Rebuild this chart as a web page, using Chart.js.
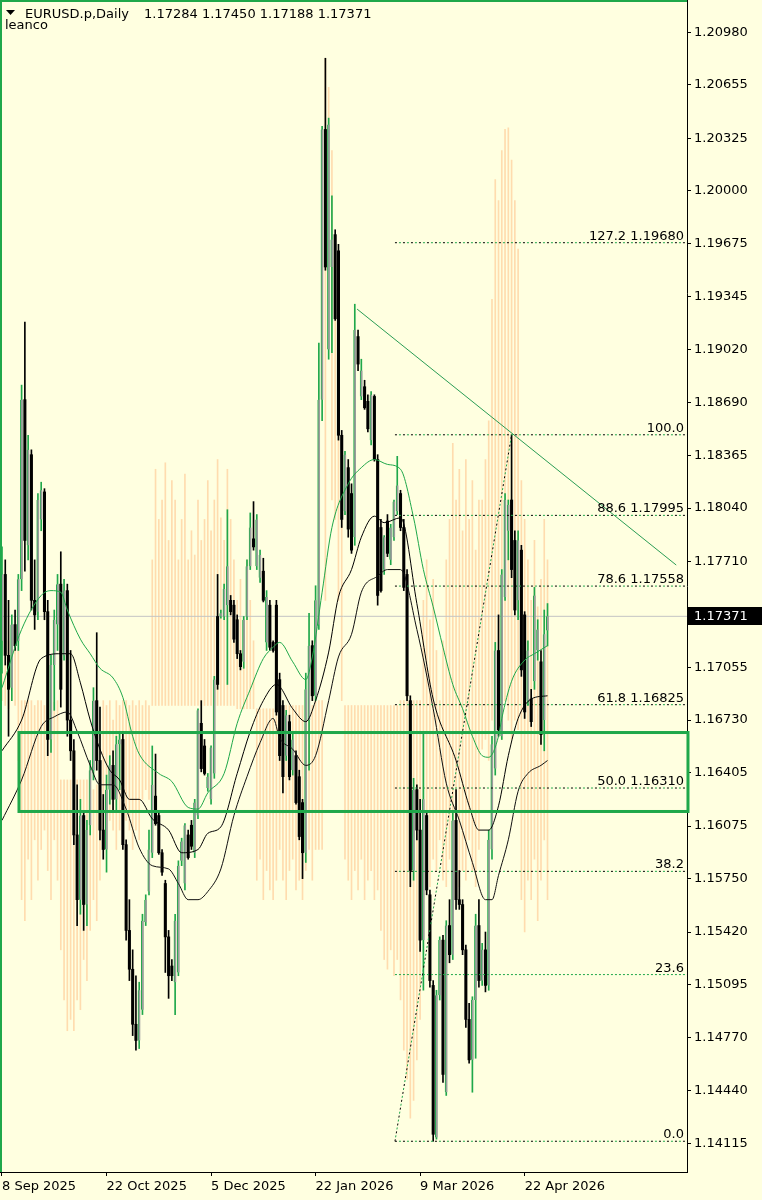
<!DOCTYPE html>
<html>
<head>
<meta charset="utf-8">
<script src="https://cdn.jsdelivr.net/npm/chart.js@4.4.1/dist/chart.umd.min.js"></script>
<style>
  html, body { margin: 0; padding: 0; background: #FFFFE0; }
  canvas { display: block; }
</style>
</head>
<body>
<canvas id="grafica" width="762" height="1200"></canvas>
<script>
// EURUSD.p Daily, one entry per bar (bar 0 = 8 Sep 2025)
const opens = [
  1.1722, 1.1763, 1.1713, 1.1693, 1.1732, 1.1722, 1.1760, 1.1871, 1.1781, 1.1837,
  1.1747, 1.1740, 1.1797, 1.1814, 1.1740, 1.1661, 1.1707, 1.1732, 1.1757, 1.1713,
  1.1753, 1.1673, 1.1654, 1.1602, 1.1562, 1.1614, 1.1559, 1.1608, 1.1642, 1.1685,
  1.1648, 1.1605, 1.1593, 1.1630, 1.1645, 1.1624, 1.1658, 1.1661, 1.1596, 1.1543,
  1.1519, 1.1485, 1.1475, 1.1494, 1.1548, 1.1567, 1.1591, 1.1626, 1.1614, 1.1591,
  1.1572, 1.1539, 1.1521, 1.1511, 1.1517, 1.1586, 1.1572, 1.1602, 1.1608, 1.1591,
  1.1614, 1.1671, 1.1657, 1.1631, 1.1624, 1.1640, 1.1737, 1.1737, 1.1737, 1.1744,
  1.1747, 1.1744, 1.1735, 1.1714, 1.1709, 1.1737, 1.1768, 1.1785, 1.1768, 1.1761,
  1.1765, 1.1721, 1.1744, 1.1721, 1.1744, 1.1698, 1.1682, 1.1651, 1.1672, 1.1642,
  1.1651, 1.1638, 1.1622, 1.1591, 1.1673, 1.1719, 1.1688, 1.1732, 1.1871, 1.2038,
  1.1902, 1.1953, 1.1973, 1.1963, 1.1849, 1.1802, 1.1829, 1.1813, 1.1786, 1.1910,
  1.1873, 1.1879, 1.1870, 1.1846, 1.1873, 1.1834, 1.1792, 1.1766, 1.1796, 1.1772,
  1.1786, 1.1802, 1.1813, 1.1792, 1.1763, 1.1685, 1.1580, 1.1630, 1.1605, 1.1537,
  1.1614, 1.1565, 1.1509, 1.1415, 1.1503, 1.1537, 1.1443, 1.1546, 1.1528, 1.1611,
  1.1562, 1.1559, 1.1531, 1.1488, 1.1463, 1.1500, 1.1546, 1.1512, 1.1531, 1.1509,
  1.1593, 1.1643, 1.1716, 1.1663, 1.1749, 1.1790, 1.1809, 1.1784, 1.1747, 1.1778,
  1.1738, 1.1685, 1.1686, 1.1697, 1.1716, 1.1709, 1.1673, 1.17284
];
const highs = [
  1.1780, 1.1772, 1.1747, 1.1738, 1.1741, 1.1763, 1.1880, 1.1919, 1.1849, 1.1840,
  1.1772, 1.1813, 1.1820, 1.1816, 1.1747, 1.1713, 1.1741, 1.1763, 1.1777, 1.1760,
  1.1757, 1.1716, 1.1661, 1.1633, 1.1624, 1.1617, 1.1611, 1.1648, 1.1693, 1.1727,
  1.1681, 1.1627, 1.1639, 1.1651, 1.1654, 1.1663, 1.1666, 1.1666, 1.1599, 1.1562,
  1.1531, 1.1515, 1.1511, 1.1553, 1.1565, 1.1605, 1.1657, 1.1652, 1.1616, 1.1593,
  1.1574, 1.1543, 1.1525, 1.1553, 1.1586, 1.1600, 1.1609, 1.1605, 1.1611, 1.1624,
  1.1680, 1.1685, 1.1661, 1.1640, 1.1657, 1.1700, 1.1763, 1.1741, 1.1757, 1.1803,
  1.1750, 1.1747, 1.1738, 1.1716, 1.1737, 1.1772, 1.1801, 1.1808, 1.1800, 1.1778,
  1.1773, 1.1753, 1.1747, 1.1722, 1.1747, 1.1702, 1.1685, 1.1679, 1.1676, 1.1665,
  1.1654, 1.1642, 1.1624, 1.1702, 1.1739, 1.1722, 1.1756, 1.1906, 1.2040, 1.2082,
  1.2045, 1.1997, 1.1976, 1.1967, 1.1852, 1.1839, 1.1834, 1.1819, 1.1930, 1.1914,
  1.1896, 1.1883, 1.1874, 1.1876, 1.1874, 1.1837, 1.1797, 1.1787, 1.1800, 1.1794,
  1.1809, 1.1836, 1.1815, 1.1797, 1.1766, 1.1688, 1.1637, 1.1633, 1.1624, 1.1666,
  1.1617, 1.1568, 1.1512, 1.1506, 1.1539, 1.1540, 1.1549, 1.1562, 1.1617, 1.1630,
  1.1580, 1.1562, 1.1534, 1.1498, 1.1502, 1.1553, 1.1562, 1.1535, 1.1542, 1.1605,
  1.1663, 1.1721, 1.1738, 1.1766, 1.1813, 1.1809, 1.18493, 1.1790, 1.1790, 1.1781,
  1.1740, 1.1722, 1.1692, 1.1755, 1.1735, 1.1716, 1.1741, 1.17450
];
const lows = [
  1.1702, 1.1707, 1.1663, 1.1685, 1.1716, 1.1716, 1.1753, 1.1765, 1.1772, 1.1741,
  1.1729, 1.1735, 1.1790, 1.1735, 1.1651, 1.1653, 1.1679, 1.1716, 1.1681, 1.1710,
  1.1663, 1.1648, 1.1596, 1.1546, 1.1553, 1.1543, 1.1546, 1.1602, 1.1636, 1.1642,
  1.1599, 1.1587, 1.1579, 1.1621, 1.1617, 1.1617, 1.1630, 1.1593, 1.1537, 1.1512,
  1.1478, 1.1469, 1.1470, 1.1491, 1.1546, 1.1565, 1.1588, 1.1608, 1.1590, 1.1577,
  1.1517, 1.1501, 1.1512, 1.1491, 1.1515, 1.1583, 1.1568, 1.1587, 1.1593, 1.1588,
  1.1612, 1.1641, 1.1639, 1.1629, 1.1621, 1.1637, 1.1692, 1.1736, 1.1735, 1.1695,
  1.1738, 1.1721, 1.1711, 1.1704, 1.1705, 1.1735, 1.1766, 1.1778, 1.1766, 1.1758,
  1.1746, 1.1716, 1.1716, 1.1715, 1.1676, 1.1648, 1.1628, 1.1648, 1.1636, 1.1639,
  1.1621, 1.1599, 1.1575, 1.1585, 1.1642, 1.1685, 1.1685, 1.1729, 1.1858, 1.1951,
  1.1896, 1.1900, 1.1920, 1.1846, 1.1792, 1.1800, 1.1786, 1.1776, 1.1781, 1.1889,
  1.1871, 1.1865, 1.1851, 1.1843, 1.1833, 1.1744, 1.1752, 1.1763, 1.1774, 1.1769,
  1.1784, 1.1800, 1.1790, 1.1753, 1.1685, 1.1570, 1.1574, 1.1599, 1.1530, 1.1506,
  1.1565, 1.1508, 1.14127, 1.1414, 1.1500, 1.1449, 1.1441, 1.1523, 1.1525, 1.1556,
  1.1556, 1.1528, 1.1483, 1.1461, 1.1443, 1.1464, 1.1508, 1.1509, 1.1505, 1.1506,
  1.1587, 1.1639, 1.1663, 1.1661, 1.1747, 1.1772, 1.1761, 1.1738, 1.1735, 1.1700,
  1.1674, 1.1682, 1.1669, 1.1692, 1.1710, 1.1658, 1.1654, 1.17188
];
const closes = [
  1.1763, 1.1713, 1.1692, 1.1732, 1.1719, 1.1760, 1.1871, 1.1784, 1.1840, 1.1747,
  1.1738, 1.1809, 1.1815, 1.1740, 1.1661, 1.1707, 1.1735, 1.1757, 1.1692, 1.1753,
  1.1673, 1.1654, 1.1602, 1.1562, 1.1614, 1.1559, 1.1605, 1.1642, 1.1685, 1.1648,
  1.1605, 1.1593, 1.1630, 1.1645, 1.1624, 1.1658, 1.1661, 1.1596, 1.1543, 1.1519,
  1.1485, 1.1475, 1.1506, 1.1549, 1.1562, 1.1593, 1.1633, 1.1609, 1.1591, 1.1579,
  1.1539, 1.1515, 1.1515, 1.1549, 1.1583, 1.1598, 1.1608, 1.1588, 1.1595, 1.1622,
  1.1679, 1.1643, 1.1640, 1.1638, 1.1656, 1.1698, 1.1695, 1.1739, 1.1754, 1.1768,
  1.1740, 1.1723, 1.1714, 1.1706, 1.1735, 1.1768, 1.1792, 1.1780, 1.1797, 1.1775,
  1.1747, 1.1749, 1.1718, 1.1716, 1.1678, 1.1651, 1.1638, 1.1676, 1.1638, 1.1661,
  1.1622, 1.1601, 1.1591, 1.1692, 1.1719, 1.1688, 1.1747, 1.1871, 1.2038, 1.1953,
  1.2041, 1.1970, 1.1921, 1.1849, 1.1797, 1.1837, 1.1791, 1.1778, 1.1914, 1.1893,
  1.1889, 1.1866, 1.1853, 1.1874, 1.1834, 1.1750, 1.1753, 1.1786, 1.1776, 1.1792,
  1.1808, 1.1818, 1.1792, 1.1755, 1.1688, 1.1580, 1.1630, 1.1605, 1.1537, 1.1624,
  1.1568, 1.1512, 1.1417, 1.1503, 1.1537, 1.1454, 1.1546, 1.1528, 1.1611, 1.1562,
  1.1559, 1.1531, 1.1488, 1.1463, 1.1500, 1.1546, 1.1512, 1.1531, 1.1509, 1.1599,
  1.1658, 1.1716, 1.1667, 1.1763, 1.1809, 1.1806, 1.1766, 1.1741, 1.1784, 1.1704,
  1.1678, 1.1716, 1.1672, 1.1750, 1.1729, 1.1664, 1.1726, 1.17371
];

// light orange background histogram (high / low per bar)
const ghostHigh = [
  1.1722, 1.1716, 1.1722, 1.1716, 1.1722, 1.1716, 1.1685, 1.1685, 1.1685, 1.1685,
  1.1682, 1.1685, 1.1685, 1.1682, 1.1685, 1.1682, 1.1684, 1.1685, 1.1636, 1.1636,
  1.1636, 1.1636, 1.1636, 1.1636, 1.1636, 1.1636, 1.1636, 1.1633, 1.1630, 1.1633,
  1.1624, 1.1685, 1.1682, 1.1685, 1.1673, 1.1685, 1.1682, 1.1685, 1.1685, 1.1682,
  1.1685, 1.1682, 1.1685, 1.1682, 1.1685, 1.1682, 1.1772, 1.1828, 1.1797, 1.1809,
  1.1832, 1.1784, 1.1821, 1.1809, 1.1772, 1.1797, 1.1825, 1.1772, 1.1790, 1.1775,
  1.1809, 1.1784, 1.1797, 1.1821, 1.1790, 1.1809, 1.1834, 1.1798, 1.1784, 1.1828,
  1.1797, 1.1772, 1.1747, 1.1760, 1.1735, 1.1772, 1.1747, 1.1722, 1.1680, 1.1680,
  1.1680, 1.1680, 1.1680, 1.1680, 1.1680, 1.1682, 1.1682, 1.1682, 1.1682, 1.1682,
  1.1682, 1.1682, 1.1682, 1.1682, 1.1682, 1.1682, 1.1685, 1.1685, 1.1685, 1.2082,
  1.2064, 1.2025, 1.1964, 1.1945, 1.1840, 1.1682, 1.1682, 1.1682, 1.1682, 1.1682,
  1.1682, 1.1682, 1.1682, 1.1682, 1.1682, 1.1682, 1.1682, 1.1682, 1.1682, 1.1682,
  1.1682, 1.1682, 1.1685, 1.1685, 1.1685, 1.1685, 1.1685, 1.1685, 1.1685, 1.1747,
  1.1772, 1.1735, 1.1760, 1.1716, 1.1685, 1.1722, 1.1772, 1.1797, 1.1844, 1.1809,
  1.1828, 1.1790, 1.1834, 1.1797, 1.1821, 1.1778, 1.1809, 1.1809, 1.1834, 1.1858,
  1.1933, 1.2007, 1.1994, 1.2025, 1.2038, 1.2039, 1.2019, 1.1994, 1.1964, 1.1821,
  1.1797, 1.1772, 1.1747, 1.1784, 1.1743, 1.1760, 1.1797, 1.1772
];
const ghostLow = [
  1.1685, 1.1682, 1.1680, 1.1685, 1.1682, 1.1648, 1.1562, 1.1549, 1.1587, 1.1562,
  1.1599, 1.1574, 1.1593, 1.1605, 1.1580, 1.1562, 1.1599, 1.1574, 1.1531, 1.1500,
  1.1481, 1.1488, 1.1481, 1.1500, 1.1494, 1.1525, 1.1512, 1.1543, 1.1562, 1.1549,
  1.1574, 1.1605, 1.1599, 1.1611, 1.1605, 1.1593, 1.1605, 1.1599, 1.1611, 1.1605,
  1.1593, 1.1605, 1.1599, 1.1624, 1.1630, 1.1624, 1.1682, 1.1682, 1.1682, 1.1682,
  1.1682, 1.1682, 1.1682, 1.1682, 1.1682, 1.1682, 1.1682, 1.1682, 1.1682, 1.1682,
  1.1682, 1.1682, 1.1682, 1.1682, 1.1682, 1.1682, 1.1682, 1.1682, 1.1682, 1.1682,
  1.1682, 1.1682, 1.1680, 1.1680, 1.1680, 1.1680, 1.1680, 1.1680, 1.1574, 1.1587,
  1.1562, 1.1580, 1.1568, 1.1562, 1.1574, 1.1593, 1.1574, 1.1562, 1.1580, 1.1587,
  1.1568, 1.1574, 1.1562, 1.1580, 1.1593, 1.1574, 1.1593, 1.1593, 1.1593, 1.1747,
  1.1930, 1.1809, 1.1797, 1.1747, 1.1685, 1.1587, 1.1574, 1.1562, 1.1580, 1.1568,
  1.1587, 1.1562, 1.1574, 1.1580, 1.1562, 1.1568, 1.1543, 1.1525, 1.1519, 1.1531,
  1.1515, 1.1525, 1.1500, 1.1469, 1.1451, 1.1427, 1.1438, 1.1463, 1.1488, 1.1574,
  1.1593, 1.1570, 1.1587, 1.1580, 1.1599, 1.1574, 1.1570, 1.1587, 1.1574, 1.1593,
  1.1570, 1.1580, 1.1574, 1.1599, 1.1580, 1.1570, 1.1593, 1.1655, 1.1661, 1.1648,
  1.1673, 1.1673, 1.1667, 1.1661, 1.1685, 1.1673, 1.1661, 1.1673, 1.1667, 1.1562,
  1.1542, 1.1574, 1.1562, 1.1587, 1.1549, 1.1574, 1.1599, 1.1562
];

// moving-average style bands, [bar, price]
const upperBand = [
  [0, 1.1693], [6, 1.1729], [12, 1.1750], [15, 1.1753], [18, 1.1752], [20, 1.1741],
  [24, 1.1723], [27, 1.1714], [30, 1.1705], [34, 1.1699], [37, 1.1687], [40, 1.1663],
  [42, 1.1652], [48, 1.1640], [52, 1.1635], [57, 1.1619], [60, 1.1618], [63, 1.1628],
  [68, 1.1640], [72, 1.1671], [76, 1.1692], [80, 1.1711], [83, 1.1718], [85, 1.1721],
  [89, 1.1709], [93, 1.1698], [95, 1.1712], [98, 1.1752], [101, 1.1792], [106, 1.1819],
  [110, 1.1829], [114, 1.1834], [118, 1.1831], [122, 1.1828], [126, 1.1798], [129, 1.1766],
  [132, 1.1743], [135, 1.1718], [138, 1.1695], [141, 1.1680], [144, 1.1663], [147, 1.1651],
  [149, 1.1650], [152, 1.1663], [153, 1.1674], [156, 1.1697], [160, 1.1710], [163, 1.1714],
  [167, 1.1719]
];
const midBand = [
  [0, 1.1654], [6, 1.1673], [12, 1.1711], [18, 1.1714], [21, 1.1714], [24, 1.1696],
  [27, 1.1673], [30, 1.1655], [33, 1.1642], [36, 1.1636], [39, 1.1624], [42, 1.1624],
  [46, 1.1612], [51, 1.1605], [55, 1.1591], [60, 1.1593], [63, 1.1603], [67, 1.1607],
  [72, 1.1640], [76, 1.1666], [80, 1.1685], [84, 1.1695], [89, 1.1680], [93, 1.1672],
  [96, 1.1685], [100, 1.1715], [103, 1.1749], [107, 1.1766], [110, 1.1786], [114, 1.1799],
  [117, 1.1795], [122, 1.1798], [127, 1.1745], [132, 1.1686], [139, 1.1648], [143, 1.1620],
  [146, 1.1605], [149, 1.1605], [152, 1.1620], [155, 1.1651], [158, 1.1674], [162, 1.1686],
  [167, 1.1688]
];
const lowerBand = [
  [0, 1.1611], [6, 1.1636], [12, 1.1669], [16, 1.1675], [20, 1.1678], [23, 1.1666],
  [27, 1.1645], [30, 1.1633], [34, 1.1633], [38, 1.1618], [42, 1.1594], [46, 1.1583],
  [51, 1.1581], [54, 1.1572], [57, 1.1562], [60, 1.1562], [63, 1.1567], [67, 1.1581],
  [71, 1.1614], [75, 1.1638], [79, 1.1659], [83, 1.1674], [85, 1.1662], [89, 1.1655],
  [93, 1.1645], [96, 1.1651], [100, 1.1685], [103, 1.1712], [107, 1.1726], [110, 1.1752],
  [115, 1.1762], [118, 1.1766], [122, 1.1766], [127, 1.1729], [132, 1.1680], [136, 1.1634],
  [140, 1.1611], [144, 1.1585], [148, 1.1562], [150, 1.1562], [152, 1.1577], [155, 1.1599],
  [158, 1.1629], [161, 1.1640], [165, 1.1645], [167, 1.1648]
];

// fibonacci retracement
const fibLevels = ["0.0", "23.6", "38.2", "50.0", "61.8", "78.6", "88.6", "100.0", "127.2"];
const fibPrices = [1.14127, 1.15157, 1.15795, 1.16310, 1.16825, 1.17558, 1.17995, 1.18493, 1.19680];
const fibShowPrice = [false, false, false, true, true, true, true, false, true];
const fibBars = [120.3, 156];           // anchor bars (low, high)
const trendBars = [108.7, 206.4];
const trendPrices = [1.19270, 1.17688];
const boxBars = [5.2, 210];
const boxPrices = [1.16653, 1.16165];

const yTickVals = [1.20980, 1.20655, 1.20325, 1.20000, 1.19675, 1.19345, 1.19020, 1.18690,
  1.18365, 1.18040, 1.17710, 1.17055, 1.16730, 1.16405, 1.16075, 1.15750, 1.15420,
  1.15095, 1.14770, 1.14440, 1.14115];
const xTickBars = [0, 32, 64, 96, 128, 160];
const xTickLabels = ["8 Sep 2025", "22 Oct 2025", "5 Dec 2025", "22 Jan 2026", "9 Mar 2026", "22 Apr 2026"];

const VERDE = "#1fa84a";
const FUENTE = "DejaVu Sans";
const lastClose = closes[closes.length - 1];
const esAlcista = i => closes[i] >= opens[i];

const datasets = [];

datasets.push({
  type: "bar", label: "ghost", order: 20, grouped: false,
  data: ghostHigh.map((h, i) => ({ x: i, y: [ghostLow[i], h] })),
  backgroundColor: "#FFDCAE", barThickness: 1, borderWidth: 0
});

datasets.push({
  type: "line", label: "precio", order: 15,
  data: [{ x: -1, y: lastClose }, { x: 212, y: lastClose }],
  borderColor: "#c4c4c4", borderWidth: 1, pointRadius: 0
});

datasets.push({
  type: "bar", label: "mechas", order: 8, grouped: false,
  data: highs.map((h, i) => ({ x: i, y: [lows[i], h] })),
  backgroundColor: ctx => esAlcista(ctx.dataIndex) ? VERDE : "#000000",
  barThickness: 1, borderWidth: 0
});

datasets.push({
  type: "bar", label: "cuerpos", order: 7, grouped: false,
  data: opens.map((o, i) => ({ x: i, y: [o, closes[i]] })),
  backgroundColor: ctx => esAlcista(ctx.dataIndex) ? "#9c9c9c" : "#000000",
  borderColor: VERDE,
  borderWidth: ctx => esAlcista(ctx.dataIndex) ? { left: 1, right: 0, top: 0, bottom: 0 } : 0,
  borderSkipped: false, barThickness: 2.4
});

[[upperBand, VERDE], [midBand, "#000000"], [lowerBand, "#111111"]].forEach(([banda, color]) => {
  datasets.push({
    type: "line", order: 5,
    data: banda.map(([x, y]) => ({ x, y })),
    borderColor: color, borderWidth: 1, pointRadius: 0,
    cubicInterpolationMode: "monotone"
  });
});

// fib levels: alternating black / green dots
fibPrices.forEach((p, k) => {
  const pts = [{ x: fibBars[0], y: p }, { x: 212, y: p }];
  const negro = fibLevels[k] === "23.6" ? VERDE : "#000000";
  datasets.push({ type: "line", order: 3, data: pts, borderColor: negro, borderWidth: 1,
    borderDash: [2, 6], borderDashOffset: 0, pointRadius: 0 });
  datasets.push({ type: "line", order: 3, data: pts, borderColor: VERDE, borderWidth: 1,
    borderDash: [2, 6], borderDashOffset: 4, pointRadius: 0 });
});
const diag = [{ x: fibBars[0], y: fibPrices[0] }, { x: fibBars[1], y: fibPrices[7] }];
datasets.push({ type: "line", order: 3, data: diag, borderColor: "#000000", borderWidth: 1,
  borderDash: [2, 6], borderDashOffset: 0, pointRadius: 0 });
datasets.push({ type: "line", order: 3, data: diag, borderColor: VERDE, borderWidth: 1,
  borderDash: [2, 6], borderDashOffset: 4, pointRadius: 0 });

datasets.push({
  type: "line", order: 2,
  data: [{ x: trendBars[0], y: trendPrices[0] }, { x: trendBars[1], y: trendPrices[1] }],
  borderColor: "#2a9d55", borderWidth: 1, pointRadius: 0
});

const decoracion = {
  id: "decoracion",
  beforeDraw(chart) {
    const c = chart.ctx;
    c.save();
    c.fillStyle = "#FFFFE0";
    c.fillRect(0, 0, chart.width, chart.height);
    c.restore();
  },
  afterDatasetsDraw(chart) {
    const c = chart.ctx, xs = chart.scales.x, ys = chart.scales.y;
    // green box
    const x1 = xs.getPixelForValue(boxBars[0]), x2 = xs.getPixelForValue(boxBars[1]);
    const y1 = ys.getPixelForValue(boxPrices[0]), y2 = ys.getPixelForValue(boxPrices[1]);
    c.save();
    c.strokeStyle = VERDE;
    c.lineWidth = 3;
    c.strokeRect(x1, y1, x2 - x1, y2 - y1);
    c.restore();
  },
  afterDraw(chart) {
    const c = chart.ctx, ys = chart.scales.y, area = chart.chartArea;
    c.save();
    // window frame
    c.fillStyle = VERDE;
    c.fillRect(0, 0, area.right, 2);
    c.fillRect(0, 0, 2, area.bottom);

    // fib labels
    c.fillStyle = "#000";
    c.font = "13px " + FUENTE;
    c.textAlign = "right";
    c.textBaseline = "alphabetic";
    fibPrices.forEach((p, k) => {
      const y = ys.getPixelForValue(p);
      const txt = fibShowPrice[k] ? fibLevels[k] + " " + p.toFixed(5) : fibLevels[k];
      c.fillText(txt, area.right - 3, y - 3);
    });

    // current price tag
    const yp = ys.getPixelForValue(lastClose);
    c.fillStyle = "#000";
    c.fillRect(area.right + 1, Math.round(yp) - 9, 74, 18);
    c.fillStyle = "#fff";
    c.textAlign = "left";
    c.textBaseline = "middle";
    c.fillText(lastClose.toFixed(5), area.right + 7, yp + 0.5);

    // header
    c.fillStyle = "#000";
    c.beginPath();
    c.moveTo(6, 10); c.lineTo(15, 10); c.lineTo(10.5, 15); c.closePath();
    c.fill();
    c.textBaseline = "alphabetic";
    c.fillText("EURUSD.p,Daily", 25, 18);
    c.fillText([opens, highs, lows, closes].map(a => a[a.length - 1].toFixed(5)).join(" "), 144, 18);
    c.fillText("leanco", 5, 29);
    c.restore();
  }
};

new Chart(document.getElementById("grafica").getContext("2d"), {
  type: "bar",
  data: { datasets },
  options: {
    responsive: false,
    animation: false,
    events: [],
    layout: { padding: 0 },
    plugins: { legend: { display: false }, tooltip: { enabled: false } },
    scales: {
      x: {
        type: "linear", min: -0.612, max: 209.7, offset: false,
        afterBuildTicks: ax => { ax.ticks = xTickBars.map(v => ({ value: v })); },
        afterFit: ax => { ax.height = 28; ax.paddingLeft = 0; ax.paddingRight = 0; },
        ticks: {
          align: "start", maxRotation: 0, autoSkip: false, padding: 3, color: "#000",
          font: { family: FUENTE, size: 13 },
          callback: (v, i) => xTickLabels[i]
        },
        grid: { display: true, drawOnChartArea: false, drawTicks: true, tickLength: 4, color: "#000", offset: false },
        border: { display: true, color: "#000" }
      },
      y: {
        position: "right", min: 1.13937, max: 1.21180,
        afterBuildTicks: ax => { ax.ticks = yTickVals.map(v => ({ value: v })); },
        afterFit: ax => { ax.width = 75; ax.paddingTop = 0; ax.paddingBottom = 0; },
        ticks: {
          padding: 3, color: "#000", font: { family: FUENTE, size: 13 },
          callback: v => v.toFixed(5)
        },
        grid: { display: true, drawOnChartArea: false, drawTicks: true, tickLength: 4, color: "#000" },
        border: { display: true, color: "#000" }
      }
    }
  },
  plugins: [decoracion]
});
</script>
</body>
</html>
